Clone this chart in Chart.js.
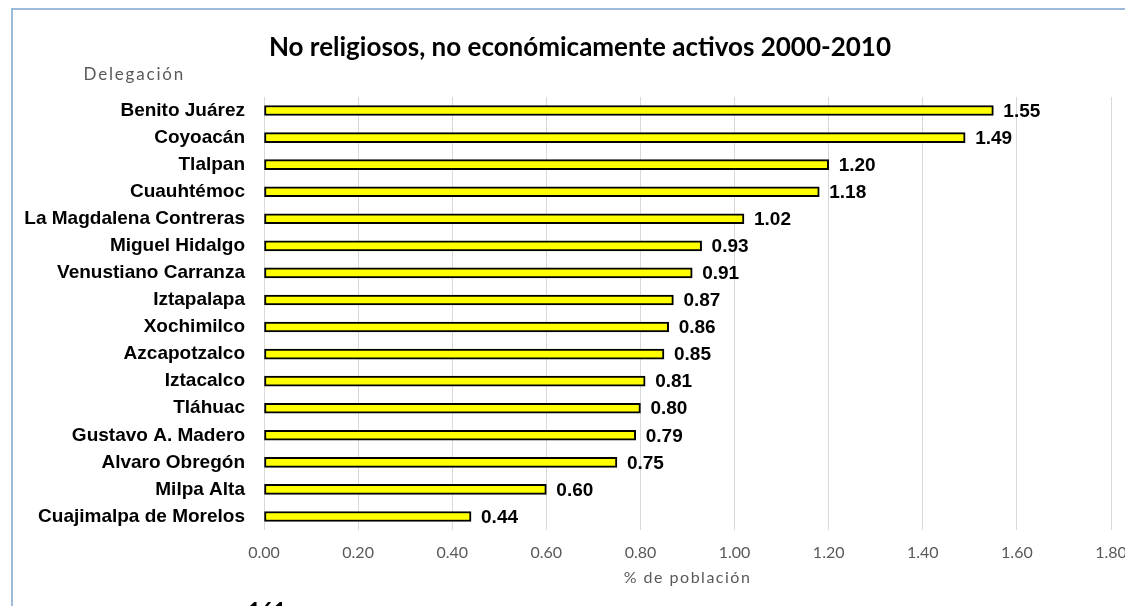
<!DOCTYPE html>
<html lang="es">
<head>
  <meta charset="UTF-8">
  <title>No religiosos, no económicamente activos 2000-2010</title>
  <script src="https://cdn.jsdelivr.net/npm/chart.js"></script>
  <style>
    html, body {
      margin: 0;
      padding: 0;
      width: 1125px;
      height: 606px;
      overflow: hidden;
      background: #fff;
    }
    #frame {
      position: absolute;
      left: 11px;
      top: 8px;
      width: 1134px;
      height: 598px;
      border-left: 2px solid #9bbbd9;
      border-top: 2px solid #9bbbd9;
      box-sizing: border-box;
    }
    #box {
      position: absolute;
      left: -2px;
      top: -2px;
      width: 1134px;
      height: 598px;
    }
    #page {
      position: absolute;
      left: 248px;
      top: 597px;
      font: bold 22px Lato, sans-serif;
      color: #000;
    }
  </style>
</head>
<body>
  <div id="frame">
    <div id="box"><canvas id="chart"></canvas></div>
  </div>
  <div id="page">161</div>

<script>
  // datos por delegación (% de población)
  const delegaciones = [
    'Benito Juárez', 'Coyoacán', 'Tlalpan', 'Cuauhtémoc',
    'La Magdalena Contreras', 'Miguel Hidalgo', 'Venustiano Carranza',
    'Iztapalapa', 'Xochimilco', 'Azcapotzalco', 'Iztacalco', 'Tláhuac',
    'Gustavo A. Madero', 'Alvaro Obregón', 'Milpa Alta', 'Cuajimalpa de Morelos'
  ];
  const porcentajes = [1.55, 1.49, 1.20, 1.18, 1.02, 0.93, 0.91, 0.87, 0.86, 0.85, 0.81, 0.80, 0.79, 0.75, 0.60, 0.44];
  const ticksX = [0, 0.2, 0.4, 0.6, 0.8, 1.0, 1.2, 1.4, 1.6, 1.8];

  const labelFont = 'bold 19px "Liberation Sans", Arial, sans-serif';

  // título, etiquetas de valor y títulos de los ejes
  const extras = {
    id: 'extras',
    afterDatasetsDraw(chart) {
      const ctx = chart.ctx;
      const meta = chart.getDatasetMeta(0);
      const area = chart.chartArea;
      ctx.save();
      ctx.textBaseline = 'middle';
      ctx.fillStyle = '#000';
      ctx.textAlign = 'center';
      ctx.font = 'bold 26px Lato, sans-serif';
      ctx.fillText('No religiosos, no económicamente activos 2000-2010', 569, 40);
      ctx.font = labelFont;
      ctx.textAlign = 'left';
      meta.data.forEach((bar, i) => {
        ctx.fillText(porcentajes[i].toFixed(2), bar.x + 10, bar.y + 1);
      });
      ctx.fillStyle = '#595959';
      ctx.letterSpacing = '1.8px';
      ctx.font = '17px Lato, sans-serif';
      ctx.textAlign = 'right';
      ctx.fillText('Delegación', 174, 67);
      ctx.letterSpacing = '1.5px';
      ctx.font = '16px Lato, sans-serif';
      ctx.textAlign = 'center';
      ctx.fillText('% de población', (area.left + area.right) / 2, 570);
      ctx.restore();
    }
  };

  new Chart(document.getElementById('chart'), {
    type: 'bar',
    data: {
      labels: delegaciones,
      datasets: [{
        data: porcentajes,
        backgroundColor: '#ffff00',
        borderColor: '#000',
        borderWidth: 2,
        borderSkipped: false,
        barThickness: 10
      }]
    },
    plugins: [extras],
    options: {
      indexAxis: 'y',
      responsive: true,
      maintainAspectRatio: false,
      animation: false,
      layout: { padding: { left: 0, right: 34, top: 89, bottom: 0 } },
      plugins: {
        legend: { display: false },
        tooltip: { enabled: false },
        title: { display: false }
      },
      scales: {
        x: {
          min: 0,
          max: 1.8,
          afterBuildTicks(scale) {
            scale.ticks = ticksX.map(v => ({ value: v }));
          },
          afterFit(scale) { scale.height = 76; },
          grid: { color: '#d9d9d9', lineWidth: 1, drawTicks: false },
          border: { display: false },
          ticks: {
            padding: 13,
            color: '#595959',
            font: { family: 'Lato', size: 16 },
            callback: v => Number(v).toFixed(2)
          }
        },
        y: {
          afterFit(scale) { scale.width = 253; },
          grid: { display: false, drawTicks: false },
          border: { display: false },
          ticks: {
            padding: 19,
            color: '#000',
            font: { family: 'Liberation Sans', size: 19, weight: 'bold' }
          }
        }
      }
    }
  });
</script>
</body>
</html>
